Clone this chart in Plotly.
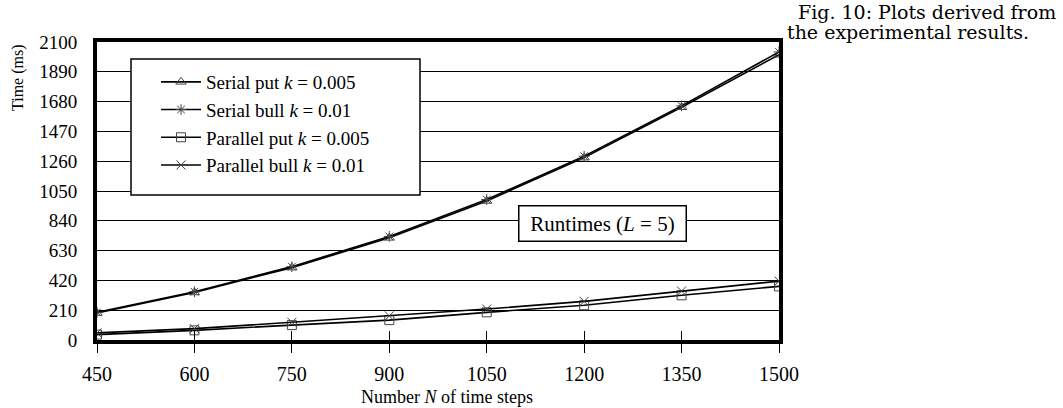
import plotly.graph_objects as go

steps = [450, 600, 750, 900, 1050, 1200, 1350, 1500]
serial_put = [190, 335, 510, 720, 980, 1285, 1640, 2010]
serial_bull = [195, 340, 517, 730, 990, 1295, 1650, 2030]
parallel_put = [38, 68, 105, 140, 195, 245, 315, 378]
parallel_bull = [50, 80, 125, 170, 218, 272, 345, 415]

names = ["Serial put <i>k</i> = 0.005", "Serial bull <i>k</i> = 0.01",
         "Parallel put <i>k</i> = 0.005", "Parallel bull <i>k</i> = 0.01"]
series = [serial_put, serial_bull, parallel_put, parallel_bull]
symbols = ["triangle-up-open", "asterisk-open", "square-open", "x-thin-open"]

y_ticks = list(range(0, 2101, 210))

SERIF = "Liberation Serif"
L, R, T, B = 97, 779, 42, 340
PW, PH = R - L, B - T


def px(xp):
    return (xp - L) / PW


def py(yp):
    return (B - yp) / PH


fig = go.Figure()
for i, (nm, ys, sym) in enumerate(zip(names, series, symbols)):
    fig.add_trace(go.Scatter(
        x=steps, y=ys, name=nm, mode="lines+markers",
        line=dict(color="black", width=1.6),
        marker=dict(symbol=sym, size=9, color="#444",
                    line=dict(color="#444", width=1)),
        legendgroup=f"g{i}",
    ))

# invisible trace to hold the inner tick axis
fig.add_trace(go.Scatter(x=steps, y=serial_put, xaxis="x2", yaxis="y",
                         mode="none", showlegend=False, hoverinfo="skip"))

fig.update_layout(
    width=1063, height=408,
    margin=dict(l=L, r=1063 - R, t=T, b=408 - B),
    paper_bgcolor="white", plot_bgcolor="white",
    font=dict(family=SERIF, size=16, color="black"),
    showlegend=True,
    legend=dict(x=px(156), y=py(63), xanchor="left", yanchor="top",
                bgcolor="rgba(0,0,0,0)", borderwidth=0,
                font=dict(family=SERIF, size=19),
                tracegroupgap=0, itemwidth=40),
    xaxis=dict(range=[450, 1500], tickvals=steps, ticks="outside", ticklen=9,
               tickwidth=1.2, tickcolor="black", showgrid=False,
               showline=True, linewidth=4, linecolor="black", mirror=True,
               zeroline=False, tickfont=dict(size=20), ticklabelstandoff=4),
    xaxis2=dict(range=[450, 1500], tickvals=steps, ticks="inside", ticklen=9,
                tickwidth=1.2, tickcolor="black", showticklabels=False,
                showgrid=False, overlaying="x", side="bottom", showline=False,
                zeroline=False),
    yaxis=dict(range=[0, 2100], tickvals=y_ticks, ticks="", showgrid=True,
               gridcolor="black", gridwidth=1, showline=True, linewidth=4,
               linecolor="black", mirror=True, zeroline=False,
               tickfont=dict(size=19), ticklabelstandoff=12),
    shapes=[dict(type="rect", xref="paper", yref="paper",
                 x0=px(131), x1=px(420), y0=py(195), y1=py(59),
                 line=dict(color="black", width=1.5),
                 fillcolor="white", layer="above")],
    annotations=[
        dict(text="Runtimes (<i>L</i> = 5)", x=1228, y=824, xref="x", yref="y",
             showarrow=False, font=dict(size=21), bgcolor="white",
             bordercolor="black", borderwidth=1.5, width=164, height=32,
             borderpad=1),
        dict(text="Time (ms)", xref="paper", yref="paper",
             x=px(18), y=py(78), textangle=-90,
             showarrow=False, font=dict(size=16), xanchor="center",
             yanchor="middle"),
        dict(text="Number <i>N</i> of time steps", xref="paper", yref="paper",
             x=px(447), y=py(397), showarrow=False,
             font=dict(size=18), xanchor="center", yanchor="middle"),
        dict(text="Fig. 10: Plots derived from",
             xref="paper", yref="paper", x=px(797), y=py(0),
             xanchor="left", yanchor="top", align="left", showarrow=False,
             font=dict(family="DejaVu Serif", size=19), borderpad=0),
        dict(text="the experimental results.",
             xref="paper", yref="paper", x=px(786), y=py(20),
             xanchor="left", yanchor="top", align="left", showarrow=False,
             font=dict(family="DejaVu Serif", size=19), borderpad=0),
    ],
)

fig.write_html("out.html", config={"displayModeBar": False},
               post_script="document.body.style.margin='0';")
